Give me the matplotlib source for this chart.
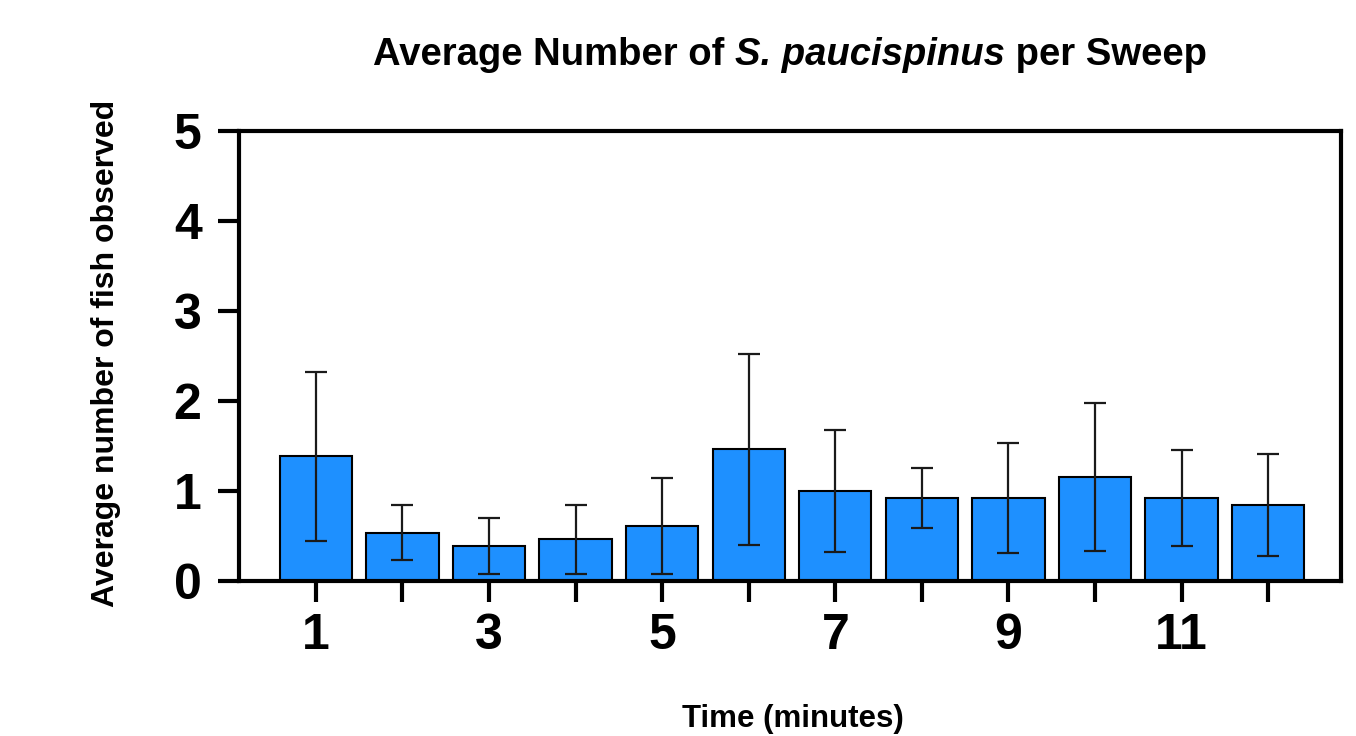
import numpy as np
import matplotlib.pyplot as plt

plt.rcParams['font.family'] = 'Liberation Sans'

minutes = np.arange(1, 13)
mean_fish = [1.385, 0.538, 0.385, 0.462, 0.615, 1.462, 1.0, 0.923, 0.923, 1.154, 0.923, 0.846]
err_fish = [0.94, 0.31, 0.31, 0.38, 0.535, 1.065, 0.68, 0.335, 0.61, 0.825, 0.535, 0.565]
tick_labels = ['1', '', '3', '', '5', '', '7', '', '9', '', '11', '']
title_parts = [('Average Number of ', 'normal'), ('S. paucispinus', 'italic'), (' per Sweep', 'normal')]

fig = plt.figure(figsize=(13.56, 7.36), dpi=100)
ax = fig.add_axes([0.1763, 0.2106, 0.8126, 0.6114])

ax.bar(minutes, mean_fish, width=0.835, color='#1E90FF', edgecolor='black', linewidth=1.5, zorder=2)
ax.errorbar(minutes, mean_fish, yerr=err_fish, fmt='none', ecolor='#1a1a1a',
            elinewidth=1.6, capsize=8, capthick=1.6, zorder=3)

ax.set_xlim(0.113, 12.84)
ax.set_ylim(0, 5)
ax.set_yticks(range(6))
ax.set_xticks(minutes)
ax.set_xticklabels(tick_labels)

for s in ax.spines.values():
    s.set_linewidth(3)

ax.tick_params(axis='both', direction='out', length=15, width=3, labelsize=36)
ax.tick_params(axis='y', pad=12)
ax.tick_params(axis='x', pad=8)
for lab in ax.get_xticklabels() + ax.get_yticklabels():
    lab.set_fontweight('bold')

# title in pieces so the species name can be italic
renderer = fig.canvas.get_renderer()
texts = []
for txt, style in title_parts:
    t = fig.text(0, 0, txt, fontsize=27.5, fontweight='bold', fontstyle=style, va='baseline')
    texts.append(t)
widths = [t.get_window_extent(renderer).width for t in texts]
center = (0.1763 + 0.8126 / 2) * 1356
x = center - sum(widths) / 2
for t, w in zip(texts, widths):
    t.set_position((x / 1356, 1 - 65 / 736))
    x += w

ax.set_xlabel('Time (minutes)', fontsize=22.5, fontweight='bold')
ax.xaxis.set_label_coords(0.503, -0.273)
ax.set_ylabel('Average number of fish observed', fontsize=23, fontweight='bold')
ax.yaxis.set_label_coords(-0.107, 0.505)

fig.savefig('out.png', dpi=100)
